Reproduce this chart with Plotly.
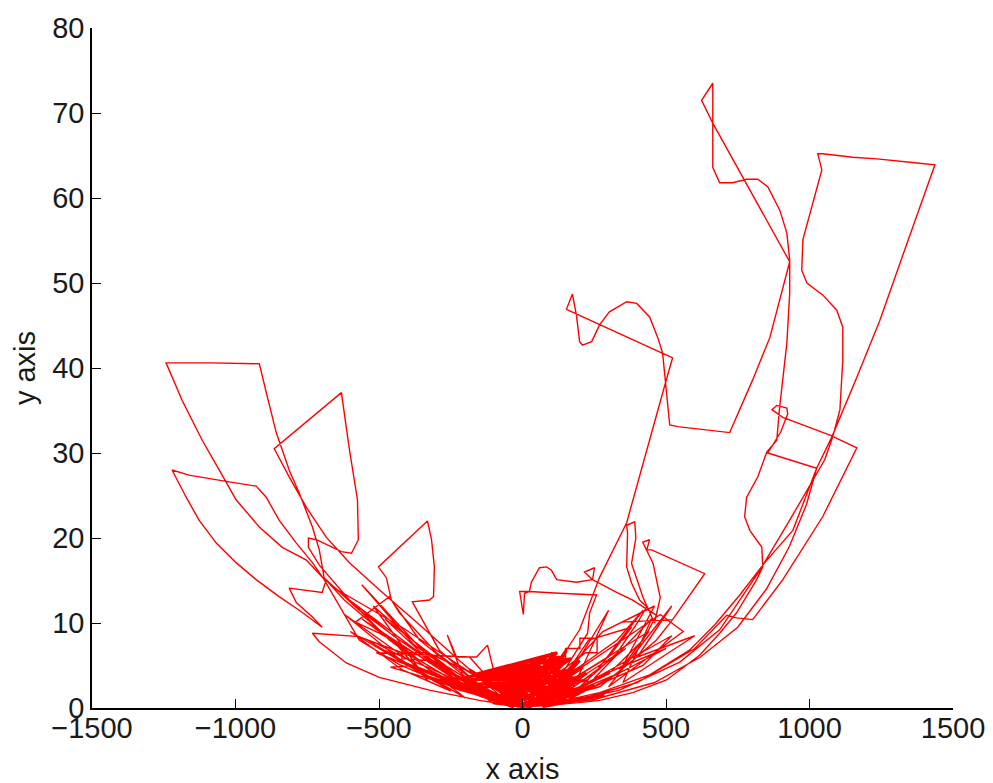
import plotly.graph_objects as go

# Axis ticks
x_ticks = [-1500, -1000, -500, 0, 500, 1000, 1500]
y_ticks = [0, 10, 20, 30, 40, 50, 60, 70, 80]

# Trajectory excursions (x, y)
seg_left_top = [(0,0.1),(-80,0.5),(-185,2.1),(-359,5.6),(-499,9.2),(-621,12.7),(-691,15.3),(-708,18.6),(-732,21.3),(-778,25.3),(-813,28.0),(-858,32.4),(-889,36.6),(-917,40.5),(-1085,40.6),(-1242,40.6),(-1186,36.2),(-1116,31.5),(-1050,27.6),(-998,24.5),(-917,21.3),(-837,18.9),(-753,17.4),(-698,15.4),(-603,12.7),(-464,9.2),(-324,5.6),(-185,2.7),(-63,0.9),(0,0.1)]

seg_left_28 = [(0,0.1),(-220,2.1),(-429,5.1),(-569,8.0),(-691,15.1),(-732,17.1),(-788,19.4),(-848,22.1),(-893,24.8),(-928,26.1),(-1022,26.6),(-1162,27.4),(-1221,28.0),(-1172,24.8),(-1127,22.1),(-1067,19.4),(-998,17.1),(-928,15.1),(-848,13.1),(-778,11.5),(-698,9.5),(-732,10.7),(-788,12.4),(-813,14.1),(-698,13.6),(-684,15.1),(-569,11.5),(-429,8.0),(-290,5.1),(-150,2.1),(0,0.1)]

seg_left_37 = [(0,0.1),(-150,1.5),(-324,4.5),(-464,8.0),(-603,12.7),(-708,16.8),(-746,18.9),(-746,20.0),(-718,19.8),(-631,18.4),(-596,18.2),(-572,19.8),(-575,24.5),(-603,30.4),(-631,37.1),(-865,30.5),(-813,27.2),(-753,23.6),(-684,20.1),(-603,17.1),(-499,13.9),(-359,9.8),(-220,5.6),(-80,1.5),(0,0.1)]

seg_left_22 = [(0,0.1),(-185,3.3),(-359,8.0),(-457,12.7),(-474,15.3),(-502,16.6),(-331,22.0),(-317,19.8),(-307,16.6),(-310,13.1),(-324,12.7),(-384,12.5),(-290,6.8),(-150,2.7),(0,0.1)]

seg_left_low = [(0,0.1),(-150,0.9),(-324,2.1),(-440,3.1),(-499,3.6),(-614,5.3),(-708,7.8),(-732,8.8),(-569,8.4),(-509,7.6),(-429,6.2),(-324,4.7),(-220,3.1),(-80,1.2),(0,0.1)]

seg_left_cross = [(0,0.1),(-250,4.0),(-499,8.8),(-582,10.1),(-464,13.1),(-429,11.2),(-300,6.5),(-120,2.0),(0,0.1)]

seg_left_small = [(0,0.1),(-200,3.0),(-262,8.6),(-230,6.0),(-160,6.0),(-122,7.4),(-98,4.1),(-60,1.5),(0,0.1)]

seg_left_spokes = [(0,0.1),(-300,5.0),(-560,14.5),(-380,7.5),(-120,1.2),(-350,4.5),(-620,11.0),(-420,5.5),(-40,0.3),(-260,4.8),(-480,10.5),(-330,5.8),(-70,0.6),(-509,6.5),(-185,6.0),(-100,2.8),(0,0.1)]

seg_left_steps = [(0,0.1),(-200,4.5),(-330,6.5),(-420,6.5),(-420,5.8),(-300,5.5),(-160,2.2),(-380,5.0),(-460,4.8),(-300,3.2),(-80,0.6),(0,0.1)]

seg_left_dense = [(0,0.1),(-420,9.5),(-650,14.0),(-450,8.5),(-150,1.5),(-560,10.5),(-380,6.0),(-540,8.0),(-300,3.0),(-600,9.0),(-420,4.5),(-250,2.0),(-480,6.8),(-200,1.2),(-440,7.5),(-330,3.2),(-520,12.0),(-350,7.0),(-100,0.5),(0,0.1)]

seg_flag = [(0,0.1),(100,2.0),(227,8.8),(234,11.2),(258,13.3),(129,13.5),(24,13.7),(7,13.5),(3,11.0),(-10,13.7),(24,13.7),(31,14.8),(59,16.5),(84,16.6),(101,16.2),(119,15.1),(188,14.8),(244,15.1),(216,16.0),(251,16.5),(244,15.1),(328,13.6),(384,12.7),(467,10.9),(420,8.0),(300,4.0),(150,1.5),(0,0.1)]

seg_right_mid = [(0,0.1),(200,2.5),(330,6.5),(400,10.0),(433,11.9),(408,12.7),(380,14.7),(363,16.6),(366,20.6),(363,21.5),(391,21.9),(395,20.0),(380,17.0),(420,13.0),(460,10.0),(480,13.0),(455,17.0),(419,19.5),(443,19.8),(433,18.6),(450,18.6),(635,15.8),(523,10.4),(345,10.1),(523,10.4),(467,8.0),(384,5.6),(269,2.5),(0,0.1)]

seg_right_73 = [(0,0.1),(60,2.0),(199,9.2),(269,15.4),(363,21.8),(506,39.2),(523,41.2),(153,46.9),(174,48.7),(188,46.2),(199,43.1),(209,42.7),(241,43.1),(269,45.1),(303,46.6),(363,47.8),(398,47.6),(443,46.0),(471,43.6),(488,41.8),(513,33.3),(541,33.1),(642,32.7),(722,32.4),(802,38.6),(862,43.6),(931,52.5),(663,68.8),(624,71.5),(663,73.5),(663,63.6),(687,61.8),(732,61.8),(781,62.2),(820,62.2),(855,61.3),(896,58.6),(921,55.9),(931,52.7),(931,48.8),(921,42.9),(896,35.4),(886,31.5),(851,30.1),(820,27.2),(781,24.8),(774,22.5),(792,20.9),(834,18.9),(837,16.6),(816,15.1),(746,11.2),(687,8.8),(617,6.2),(502,3.3),(384,1.8),(269,0.9),(188,0.6),(0,0.1)]

seg_right_65 = [(0,0.1),(129,0.5),(338,2.1),(548,5.4),(687,9.2),(827,16.2),(931,22.1),(1053,29.2),(1081,31.9),(1106,35.1),(1116,40.9),(1116,44.8),(1095,46.8),(1046,48.6),(991,50.0),(973,51.5),(977,55.1),(1012,59.4),(1043,63.3),(1029,65.2),(1046,65.2),(1151,64.8),(1235,64.6),(1350,64.2),(1437,63.9),(1360,56.6),(1245,45.6),(1165,38.9),(1078,31.9),(1025,28.2),(942,20.9),(844,17.1),(757,13.3),(670,9.8),(582,6.8),(443,3.9),(269,1.8),(94,0.5),(0,0.1)]

seg_right_box = [(0,0.1),(200,1.0),(400,3.0),(600,7.0),(712,10.9),(746,10.6),(802,10.4),(907,15.1),(1046,22.5),(1165,30.6),(1071,32.1),(907,34.2),(869,35.1),(886,35.6),(921,35.3),(924,34.6),(900,32.5),(855,30.0),(1025,28.2),(990,24.0),(930,19.0),(850,14.0),(750,9.5),(620,6.0),(460,3.0),(250,1.0),(0,0.1)]

seg_right_spokes = [(0,0.1),(330,8.0),(420,11.5),(250,4.0),(40,0.3),(280,9.0),(460,12.0),(350,5.0),(80,0.4),(230,8.0),(380,9.5),(300,6.0),(20,0.2),(440,9.0),(330,4.0),(120,1.0),(520,8.5),(420,5.0),(160,1.2),(300,11.5),(200,6.0),(60,0.5),(360,7.0),(180,2.5),(0,0.1)]

seg_right_dense = [(0,0.1),(480,11.0),(560,9.0),(300,2.5),(520,12.0),(400,6.0),(600,8.5),(350,3.0),(450,10.5),(250,3.5),(500,7.0),(150,0.8),(0,0.1)]

seg_right_steps = [(0,0.1),(150,5.5),(150,7.0),(200,7.0),(200,8.2),(260,8.2),(260,6.5),(220,6.5),(120,4.0),(100,6.0),(140,6.0),(140,5.0),(60,2.0),(0,0.1)]

seg_core = [(0,0.1),(-324,3.6),(10,0.3),(-272,3.0),(-30,0.1),(-209,2.6),(20,0.2),(-185,4.5),(-10,0.4),(-115,1.5),(30,0.1),(-80,4.2),(0,0.2),(-35,4.1),(40,0.3),(14,4.5),(-20,0.1),(59,5.3),(50,0.2),(105,6.5),(10,0.1),(153,6.8),(60,0.3),(199,5.6),(30,0.2),(223,4.1),(70,0.1),(251,2.7),(20,0.3),(286,1.5),(80,0.2),(-150,3.5),(100,5.0),(-100,2.5),(150,5.5),(-60,3.5),(180,4.5),(-120,1.0),(120,3.5),(-40,2.5),(90,6.2),(-160,2.0),(60,4.8),(-90,3.6),(160,3.0),(-50,1.5),(130,6.0),(-200,3.0),(40,5.0),(-140,4.2),(200,3.5),(-70,2.2),(110,4.8),(-180,3.2),(70,6.0),(-30,3.0),(230,3.2),(-240,3.4),(0,4.6),(-110,4.4),(170,5.8),(-60,0.8),(140,2.5),(-20,4.0),(80,3.0),(-130,2.8),(190,2.0),(-90,1.2),(50,3.5),(-250,2.5),(25,2.5),(-160,4.0),(120,6.5),(-10,2.0),(210,4.8),(0,0.1)]

segments = [seg_left_top, seg_left_28, seg_left_37, seg_left_22, seg_left_low,
            seg_left_cross, seg_left_small, seg_left_spokes, seg_left_steps,
            seg_left_dense, seg_flag, seg_right_mid, seg_right_73, seg_right_65,
            seg_right_box, seg_right_spokes, seg_right_dense, seg_right_steps]

xs, ys = [], []
for seg in segments:
    for px, py in seg:
        xs.append(px)
        ys.append(py)

core_x = [p[0] for p in seg_core]
core_y = [p[1] for p in seg_core]

fig = go.Figure()
fig.add_trace(go.Scatter(x=xs, y=ys, mode="lines",
                         line=dict(color="#ff0000", width=1.4),
                         hoverinfo="skip", showlegend=False))
fig.add_trace(go.Scatter(x=core_x, y=core_y, mode="lines",
                         line=dict(color="#ff0000", width=3.0),
                         hoverinfo="skip", showlegend=False))

font_family = "Liberation Sans, Arial, sans-serif"
tick_font = dict(family=font_family, size=29, color="#1a1a1a")

fig.update_layout(
    width=993, height=783,
    margin=dict(l=84, r=48, t=20, b=83),
    paper_bgcolor="white", plot_bgcolor="white",
    xaxis=dict(range=[-1500, 1500], tickvals=x_ticks, ticks="inside", ticklen=9,
               tickcolor="black", showline=True, linecolor="black", linewidth=1.5,
               showgrid=False, zeroline=False, mirror=False, tickfont=tick_font,
               automargin=False, ticklabelstandoff=-7,
               title=dict(text="x axis", font=tick_font, standoff=16)),
    yaxis=dict(range=[0, 80], tickvals=y_ticks, ticks="inside", ticklen=9,
               tickcolor="black", showline=True, linecolor="black", linewidth=1.5,
               showgrid=False, zeroline=False, mirror=False, tickfont=tick_font,
               automargin=False,
               title=dict(text="y axis", font=tick_font, standoff=8)),
)

fig.write_html("out.html")
